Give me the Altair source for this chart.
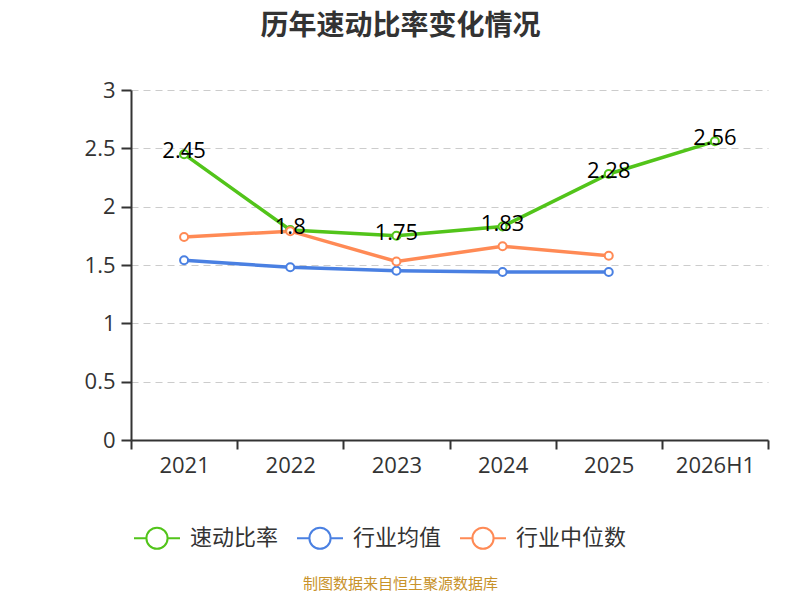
import altair as alt
import pandas as pd

years = ["2021", "2022", "2023", "2024", "2025", "2026H1"]
quick_ratio = [2.45, 1.80, 1.75, 1.83, 2.28, 2.56]
industry_mean = [1.54, 1.48, 1.45, 1.44, 1.44]
industry_median = [1.74, 1.79, 1.53, 1.66, 1.58]

series_names = ["速动比率", "行业均值", "行业中位数"]
series_colors = ["#52c41a", "#4a80e2", "#ff8a55"]

rows = []
for y, v in zip(years, quick_ratio):
    rows.append({"年份": y, "系列": series_names[0], "值": v})
for y, v in zip(years, industry_mean):
    rows.append({"年份": y, "系列": series_names[1], "值": v})
for y, v in zip(years, industry_median):
    rows.append({"年份": y, "系列": series_names[2], "值": v})
df = pd.DataFrame(rows)
label_df = pd.DataFrame({"年份": years, "值": quick_ratio,
                         "标签": [f"{v:g}" for v in quick_ratio]})

FONT = "Noto Sans CJK SC"
NUM_FONT = "Open Sans"

x_enc = alt.X(
    "年份:N", sort=years,
    scale=alt.Scale(paddingInner=0, paddingOuter=0),
    axis=alt.Axis(
        title="制图数据来自恒生聚源数据库",
        titleColor="#c8922a", titleFontSize=15, titleFontWeight="normal",
        titleFont=FONT, titleX=269, titleY=143, titleAnchor="middle",
        titleBaseline="middle",
        labelAngle=0, labelFontSize=22, labelColor="#333333", labelFont=NUM_FONT,
        labelPadding=6, tickSize=9, tickColor="#333333", tickWidth=2,
        domainColor="#333333", domainWidth=2,
        tickBand="extent", grid=False,
    ),
)
y_enc = alt.Y(
    "值:Q",
    scale=alt.Scale(domain=[0, 3], nice=False, zero=True),
    axis=alt.Axis(
        title=None, values=[0, 0.5, 1, 1.5, 2, 2.5, 3], format="~g",
        labelFontSize=22, labelColor="#333333", labelFont=NUM_FONT,
        labelPadding=6, tickSize=10, tickColor="#333333", tickWidth=2,
        domainColor="#333333", domainWidth=2,
        grid=True, gridColor="#cccccc", gridDash=[7, 5], gridWidth=1.2,
    ),
)

sym_path = ("M-1,0L-0.46,0M0.46,0A0.46,0.46,0,1,1,-0.46,0"
            "A0.46,0.46,0,1,1,0.46,0M0.46,0L1,0")

lines = alt.Chart(df).mark_line(
    strokeWidth=3.5,
    point=alt.OverlayMarkDef(filled=False, fill="white", size=64, strokeWidth=2),
).encode(
    x=x_enc,
    y=y_enc,
    color=alt.Color(
        "系列:N",
        scale=alt.Scale(domain=series_names, range=series_colors),
        legend=alt.Legend(
            title=None, orient="none", direction="horizontal",
            legendX=2, legendY=424,
            symbolType=sym_path, symbolSize=2116, symbolStrokeWidth=2,
            symbolFillColor="white",
            labelFontSize=22, labelColor="#333333", labelFont=FONT,
            labelOffset=9, columnPadding=14, padding=0,
        ),
    ),
)

labels = alt.Chart(label_df).mark_text(
    fontSize=22, font=NUM_FONT, color="#000000", baseline="middle", dy=-3,
).encode(
    x=alt.X("年份:N", sort=years),
    y=alt.Y("值:Q"),
    text="标签:N",
)

chart = alt.layer(lines, labels).properties(
    width=637, height=350,
    padding={"left": 123, "top": 82, "right": 24, "bottom": 152},
    autosize=alt.AutoSizeParams(type="none"),
    title=alt.TitleParams(
        "历年速动比率变化情况", fontSize=28, font=FONT, fontWeight="bold",
        color="#333333", anchor="middle", dx=-49, offset=38,
    ),
).configure_view(stroke=None)

chart.save("out.html", embed_options={"renderer": "svg", "actions": False})
